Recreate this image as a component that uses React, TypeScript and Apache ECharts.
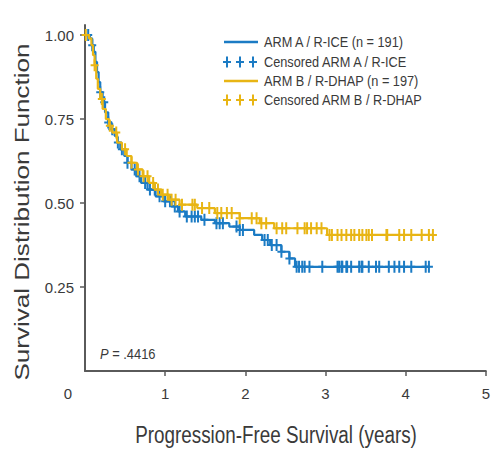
import React, { useEffect, useRef } from "react";
import * as echarts from "echarts";

// Kaplan-Meier steps: [time (years), survival after the drop]
const armASteps: [number, number][] = [
  [0, 1.0], [0.06, 0.99], [0.09, 0.97], [0.11, 0.95], [0.13, 0.92], [0.15, 0.89], [0.17, 0.86],
  [0.19, 0.83], [0.22, 0.8], [0.25, 0.77], [0.29, 0.74], [0.33, 0.72], [0.37, 0.7], [0.4, 0.68],
  [0.44, 0.66], [0.49, 0.64], [0.53, 0.62], [0.58, 0.6], [0.64, 0.58], [0.7, 0.56], [0.78, 0.54],
  [0.88, 0.52], [0.98, 0.505], [1.08, 0.49], [1.16, 0.475], [1.25, 0.46], [1.45, 0.45], [1.62, 0.44],
  [1.8, 0.43], [1.93, 0.42], [2.11, 0.405], [2.21, 0.39], [2.31, 0.375], [2.45, 0.355], [2.55, 0.335],
  [2.62, 0.31],
];
const armAEnd = 4.3;
const armACensored = [
  0.04, 0.09, 0.19, 0.24, 0.29, 0.34, 0.41, 0.46, 0.53, 0.62, 0.68, 0.75, 0.81, 0.87, 0.93, 1.0,
  1.06, 1.12, 1.18, 1.27, 1.33, 1.37, 1.41, 1.49, 1.64, 1.68, 1.72, 1.89, 1.93, 1.97, 2.24, 2.28,
  2.33, 2.39, 2.45, 2.55, 2.64, 2.67, 2.71, 2.74, 2.8, 2.96, 3.15, 3.17, 3.2, 3.21, 3.26, 3.27,
  3.32, 3.42, 3.45, 3.46, 3.54, 3.63, 3.67, 3.79, 3.86, 3.92, 3.98, 4.07, 4.25, 4.29,
];

const armBSteps: [number, number][] = [
  [0, 1.0], [0.05, 0.99], [0.08, 0.97], [0.1, 0.94], [0.12, 0.91], [0.14, 0.87], [0.16, 0.84],
  [0.19, 0.81], [0.22, 0.78], [0.26, 0.75], [0.3, 0.73], [0.34, 0.71], [0.4, 0.68], [0.46, 0.66],
  [0.52, 0.64], [0.58, 0.62], [0.65, 0.6], [0.72, 0.58], [0.8, 0.56], [0.87, 0.54], [0.95, 0.525],
  [1.05, 0.51], [1.18, 0.495], [1.4, 0.485], [1.62, 0.47], [1.93, 0.455], [2.18, 0.44], [2.36, 0.425],
  [3.02, 0.405],
];
const armBEnd = 4.35;
const armBCensored = [
  0.01, 0.12, 0.21, 0.31, 0.39, 0.5, 0.58, 0.66, 0.73, 0.78, 0.85, 0.91, 0.97, 1.03, 1.08, 1.13,
  1.21, 1.34, 1.37, 1.46, 1.55, 1.65, 1.7, 1.77, 1.83, 1.93, 2.08, 2.14, 2.2, 2.26, 2.39, 2.46,
  2.51, 2.65, 2.74, 2.77, 2.82, 2.89, 2.95, 3.05, 3.08, 3.15, 3.2, 3.26, 3.32, 3.36, 3.42, 3.46,
  3.51, 3.54, 3.58, 3.76, 3.77, 3.92, 3.98, 4.07, 4.2, 4.29, 4.34,
];

const xTicks = [0, 1, 2, 3, 4, 5];
const yTicks = [0.25, 0.5, 0.75, 1.0];

const legendLabels = [
  "ARM A / R-ICE (n = 191)",
  "Censored ARM A / R-ICE",
  "ARM B / R-DHAP (n = 197)",
  "Censored ARM B / R-DHAP",
];
const pValueText = ".4416";
const xTitle = "Progression-Free Survival (years)";
const yTitle = "Survival Distribution Function";

const BLUE = "#1b7bc4";
const YELLOW = "#e8b514";
const AXIS = "#5a5a5a";
const TEXT = "#3a3a3a";
const SANS = "'Liberation Sans', Arial, Helvetica, sans-serif";

const PLUS = "path://M3,0 H5 V5 H8 V7 H5 V12 H3 V7 H0 V5 H3 Z";

function survAt(steps: [number, number][], t: number): number {
  let s = steps[0][1];
  for (const [ti, si] of steps) {
    if (ti <= t) s = si;
    else break;
  }
  return s;
}

function stepLine(steps: [number, number][], end: number) {
  return [...steps.map((p) => [p[0], p[1]]), [end, steps[steps.length - 1][1]]];
}

function plusIcon(cx: number, cy: number, color: string) {
  return [
    { type: "line", shape: { x1: cx, y1: cy - 5.5, x2: cx, y2: cy + 5.5 }, style: { stroke: color, lineWidth: 2 } },
    { type: "line", shape: { x1: cx - 4, y1: cy, x2: cx + 4, y2: cy }, style: { stroke: color, lineWidth: 2 } },
  ];
}

export default function App() {
  const ref = useRef<HTMLDivElement>(null);
  useEffect(() => {
    if (!ref.current) return;
    const chart = echarts.init(ref.current, null, { renderer: "svg" });
    const rowY = [42, 62, 81, 100];
    const legendGraphics: any[] = [];
    const colors = [BLUE, BLUE, YELLOW, YELLOW];
    rowY.forEach((y, i) => {
      if (i % 2 === 0) {
        legendGraphics.push({
          type: "line",
          shape: { x1: 224, y1: y, x2: 258, y2: y },
          style: { stroke: colors[i], lineWidth: 2.5 },
        });
      } else {
        legendGraphics.push(...plusIcon(227, y, colors[i]), ...plusIcon(240, y, colors[i]), ...plusIcon(253, y, colors[i]));
      }
      legendGraphics.push({
        type: "text",
        x: 264,
        y,
        scaleX: 0.91,
        style: {
          text: legendLabels[i],
          fill: TEXT,
          font: `14px ${SANS}`,
          verticalAlign: "middle",
          align: "left",
        },
      });
    });

    const option: any = {
      animation: false,
      backgroundColor: "#ffffff",
      grid: { left: 85, right: 6, top: 25, bottom: 79, containLabel: false },
      xAxis: {
        type: "value",
        min: 0,
        max: 5,
        interval: 1,
        axisLine: { show: true, lineStyle: { color: AXIS, width: 2 } },
        axisTick: { show: true, length: 5, lineStyle: { color: AXIS, width: 1.5 }, customValues: [1, 2, 3, 4, 5] },
        axisLabel: {
          customValues: xTicks,
          margin: 15,
          color: TEXT,
          fontSize: 15,
          fontFamily: SANS,
          formatter: (v: number) => (v === 0 ? `{z|${xTicks[0]}}` : String(v)),
          rich: { z: { padding: [0, 34, 0, 0], fontSize: 15, fontFamily: SANS, color: TEXT } },
        },
        splitLine: { show: false },
      },
      yAxis: {
        type: "value",
        min: 0,
        max: 1.03,
        interval: 0.25,
        axisLine: { show: true, lineStyle: { color: AXIS, width: 2 } },
        axisTick: { show: true, length: 5, lineStyle: { color: AXIS, width: 1.5 }, customValues: yTicks },
        axisLabel: {
          customValues: yTicks,
          margin: 11,
          color: TEXT,
          fontSize: 15,
          fontFamily: SANS,
          formatter: (v: number) => v.toFixed(2),
        },
        splitLine: { show: false },
      },
      graphic: [
        {
          type: "text",
          x: 22,
          y: 212,
          rotation: Math.PI / 2,
          scaleX: 1.24,
          style: {
            text: yTitle,
            fill: TEXT,
            font: `21px ${SANS}`,
            align: "center",
            verticalAlign: "middle",
          },
        },
        {
          type: "text",
          x: 276,
          y: 435,
          scaleX: 0.82,
          style: {
            text: xTitle,
            fill: TEXT,
            font: `23px ${SANS}`,
            align: "center",
            verticalAlign: "middle",
          },
        },
        {
          type: "text",
          x: 100,
          y: 354,
          scaleX: 0.86,
          style: {
            rich: {
              p: { font: `italic 15px ${SANS}`, fill: TEXT },
              n: { font: `15px ${SANS}`, fill: TEXT },
            },
            text: `{p|P}{n| = ${pValueText}}`,
            verticalAlign: "middle",
          },
        },
        ...legendGraphics,
      ],
      series: [
        {
          name: "A",
          type: "line",
          step: "end",
          data: stepLine(armASteps, armAEnd),
          showSymbol: false,
          symbol: "none",
          lineStyle: { color: BLUE, width: 2.2 },
          z: 2,
        },
        {
          name: "A censored",
          type: "scatter",
          data: armACensored.map((t) => [t, survAt(armASteps, t)]),
          symbol: PLUS,
          symbolSize: [8, 12],
          itemStyle: { color: BLUE, opacity: 1 },
          z: 3,
        },
        {
          name: "B",
          type: "line",
          step: "end",
          data: stepLine(armBSteps, armBEnd),
          showSymbol: false,
          symbol: "none",
          lineStyle: { color: YELLOW, width: 2.2 },
          z: 4,
        },
        {
          name: "B censored",
          type: "scatter",
          data: armBCensored.map((t) => [t, survAt(armBSteps, t)]),
          symbol: PLUS,
          symbolSize: [8, 12],
          itemStyle: { color: YELLOW, opacity: 1 },
          z: 5,
        },
      ],
    };
    chart.setOption(option);
    return () => chart.dispose();
  }, []);
  return <div ref={ref} style={{ position: "fixed", left: 0, top: 0, width: 493, height: 450 }} />;
}
